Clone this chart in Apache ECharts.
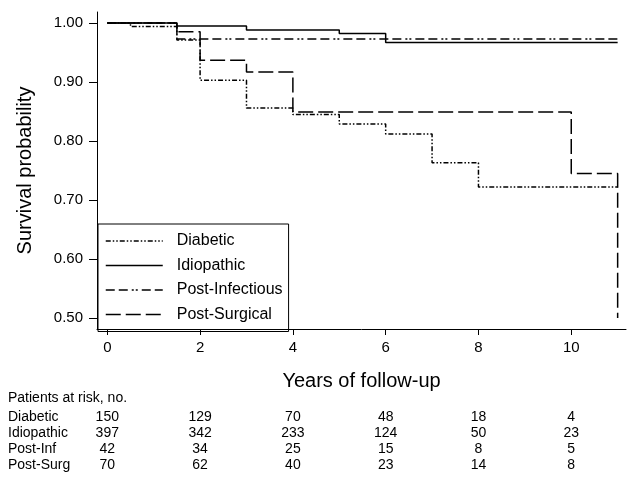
<!DOCTYPE html>
<html>
<head>
<meta charset="utf-8">
<script src="https://cdn.jsdelivr.net/npm/echarts@6/dist/echarts.min.js"></script>
<style>
html, body { margin: 0; padding: 0; background: #fff; }
#km { width: 629px; height: 479px; }
</style>
</head>
<body>
<div id="km"></div>
<script>
// KM steps: [year, survival from that year on]
var diabetic = [[0, 1], [0.5, 0.994], [1.5, 0.971], [2, 0.903], [3, 0.856], [4, 0.845], [5, 0.829], [6, 0.812], [7, 0.763], [8, 0.722], [11, 0.722]];
var idiopathic = [[0, 1], [1.5, 0.995], [3, 0.988], [5, 0.982], [6, 0.967], [11, 0.967]];
var postInfectious = [[0, 1], [1.5, 0.973], [11, 0.973]];
var postSurgical = [[0, 1], [1.5, 0.985], [2, 0.937], [3, 0.917], [4, 0.849], [10, 0.745], [11, 0.50]];

var xTicks = [0, 2, 4, 6, 8, 10];
var yTicks = [0.5, 0.6, 0.7, 0.8, 0.9, 1.0];

// patients at risk table
var riskTitle = 'Patients at risk, no.';
var riskNames = ['Diabetic', 'Idiopathic', 'Post-Inf', 'Post-Surg'];
var riskDiabetic = [150, 129, 70, 48, 18, 4];
var riskIdiopathic = [397, 342, 233, 124, 50, 23];
var riskPostInf = [42, 34, 25, 15, 8, 5];
var riskPostSurg = [70, 62, 40, 23, 14, 8];

var FONT = 'Liberation Sans, Arial, sans-serif';

var myChart = echarts.init(document.getElementById('km'));

function line(name, data, type) {
    return {
        name: name,
        type: 'line',
        step: 'end',
        data: data,
        symbol: 'none',
        animation: false,
        itemStyle: {color: '#000'},
        lineStyle: {color: '#000', width: 1.5, type: type}
    };
}

myChart.setOption({
    animation: false,
    grid: {left: 97, top: 12, right: 3, bottom: 150},
    legend: {
        orient: 'vertical',
        left: 98,
        top: 224,
        padding: [9, 6, 9, 7],
        borderColor: '#000',
        borderWidth: 1,
        itemWidth: 57,
        itemHeight: 16,
        itemGap: 8.5,
        itemStyle: {opacity: 0},
        lineStyle: {width: 1.5, color: '#000'},
        textStyle: {fontFamily: FONT, fontSize: 16, color: '#000', padding: [0, 0, 0, 9]},
        data: ['Diabetic', 'Idiopathic', 'Post-Infectious', 'Post-Surgical']
    },
    xAxis: {
        type: 'value',
        min: -0.222,
        max: 11.18,
        name: 'Years of follow-up',
        nameLocation: 'middle',
        nameGap: 42,
        nameTextStyle: {fontFamily: FONT, fontSize: 20, color: '#000'},
        splitLine: {show: false},
        axisLine: {onZero: false, lineStyle: {color: '#000', width: 1}},
        axisTick: {length: 6, lineStyle: {color: '#000'}, customValues: xTicks},
        axisLabel: {fontFamily: FONT, fontSize: 15, color: '#000', margin: 11, customValues: xTicks}
    },
    yAxis: {
        type: 'value',
        min: 0.4814,
        max: 1.0186,
        name: 'Survival probability',
        nameLocation: 'middle',
        nameGap: 62,
        nameTextStyle: {fontFamily: FONT, fontSize: 20, color: '#000'},
        splitLine: {show: false},
        axisLine: {show: true, onZero: false, lineStyle: {color: '#000', width: 1}},
        axisTick: {show: true, length: 8, lineStyle: {color: '#000'}, customValues: yTicks},
        axisLabel: {
            fontFamily: FONT, fontSize: 15, color: '#000', margin: 14, customValues: yTicks,
            formatter: function (v) { return v.toFixed(2); }
        }
    },
    series: [
        line('Diabetic', diabetic, [5, 2, 1.5, 2, 1.5, 2]),
        line('Idiopathic', idiopathic, 'solid'),
        line('Post-Infectious', postInfectious, [9, 4, 9, 4, 2, 2, 2, 4]),
        line('Post-Surgical', postSurgical, [15, 5])
    ]
});

// risk table under the axis, columns placed on the x scale
var rowsY = [417, 433, 449, 465];
var riskData = [riskDiabetic, riskIdiopathic, riskPostInf, riskPostSurg];
var els = [{
    type: 'text', left: 8, top: 391,
    style: {text: riskTitle, font: '14px ' + FONT, fill: '#000'}
}];
riskNames.forEach(function (nm, r) {
    els.push({
        type: 'text', x: 8, y: rowsY[r],
        style: {text: nm, font: '14px ' + FONT, fill: '#000', verticalAlign: 'middle'}
    });
    riskData[r].forEach(function (n, i) {
        var px = myChart.convertToPixel({xAxisIndex: 0}, xTicks[i]);
        els.push({
            type: 'text', x: px, y: rowsY[r],
            style: {text: String(n), font: '14px ' + FONT, fill: '#000', align: 'center', verticalAlign: 'middle'}
        });
    });
});
myChart.setOption({graphic: els});
</script>
</body>
</html>
